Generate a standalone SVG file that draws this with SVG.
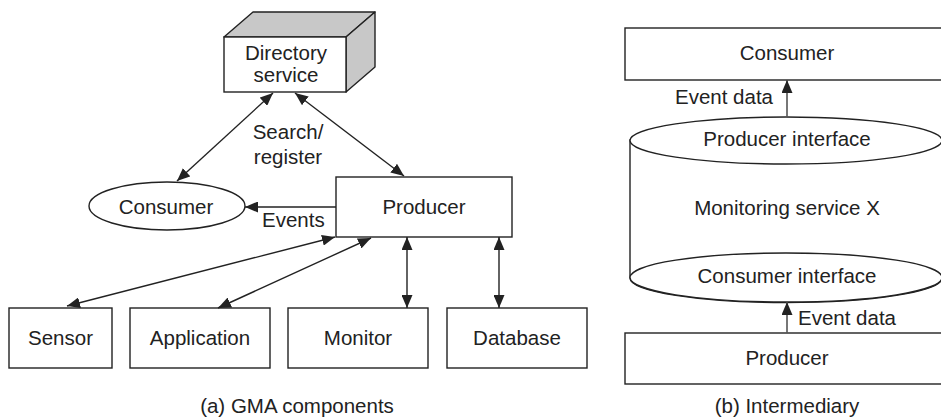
<svg xmlns="http://www.w3.org/2000/svg" width="941" height="420" viewBox="0 0 941 420">
<style>
.box{fill:#fff;stroke:#222;stroke-width:1.4}
.face{fill:#c8c8c8;stroke:#222;stroke-width:1.4;stroke-linejoin:round}
.t{font-family:"Liberation Sans",Arial,sans-serif;font-size:20.5px;fill:#222;text-anchor:middle}
.l{fill:none;stroke:#222;stroke-width:1.4}
.g{fill:none;stroke:#555;stroke-width:1.6}
</style>
<defs>
<marker id="ah" markerUnits="userSpaceOnUse" markerWidth="13" markerHeight="11" refX="13" refY="5.5" orient="auto-start-reverse" viewBox="0 0 13 11">
<path d="M0,0 L13,5.5 L0,11 z" fill="#222"/>
</marker>
</defs>
<rect width="941" height="420" fill="#fff"/>
<g id="directory">
<path class="face" d="M224,37 L253,12 L375,12 L346,37 z"/>
<path class="face" d="M346,37 L375,12 L375,67 L346,92 z"/>
<rect class="box" x="224" y="37" width="122" height="55"/>
<text class="t" x="286" y="60">Directory</text>
<text class="t" x="286" y="82">service</text>
</g>
<g id="consumer-a">
<ellipse class="box" cx="167" cy="206" rx="78" ry="24"/>
<text class="t" x="166" y="214">Consumer</text>
</g>
<g id="producer-a">
<rect class="box" x="336" y="177" width="176" height="60"/>
<text class="t" x="424" y="214">Producer</text>
</g>
<g id="sensor">
<rect class="box" x="9" y="308" width="103" height="60"/>
<text class="t" x="60.5" y="345">Sensor</text>
</g>
<g id="application">
<rect class="box" x="130" y="308" width="140" height="60"/>
<text class="t" x="200" y="345">Application</text>
</g>
<g id="monitor">
<rect class="box" x="288" y="308" width="140" height="60"/>
<text class="t" x="358" y="345">Monitor</text>
</g>
<g id="database">
<rect class="box" x="447" y="308" width="140" height="60"/>
<text class="t" x="517" y="345">Database</text>
</g>
<g id="consumer-b">
<rect class="box" x="625" y="28" width="320" height="52"/>
<text class="t" x="787" y="60">Consumer</text>
</g>
<g id="monitoring-service">
<path class="box" d="M630,140 L630,278 A156,24.5 0 0 0 942,278 L942,140 z"/>
<ellipse class="box" cx="786" cy="140.5" rx="156" ry="23.5"/>
<ellipse class="box" cx="786" cy="277.5" rx="156" ry="24.5"/>
<text class="t" x="787" y="146">Producer interface</text>
<text class="t" x="787" y="215">Monitoring service X</text>
<text class="t" x="787" y="283">Consumer interface</text>
</g>
<g id="producer-b">
<rect class="box" x="625" y="333" width="320" height="51"/>
<text class="t" x="787" y="365">Producer</text>
</g>
<g id="connectors">
<line class="l" x1="273" y1="93" x2="177" y2="181" marker-start="url(#ah)" marker-end="url(#ah)"/>
<line class="l" x1="295" y1="93" x2="404" y2="176" marker-start="url(#ah)" marker-end="url(#ah)"/>
<line class="l" x1="336" y1="207" x2="245" y2="207" marker-end="url(#ah)"/>
<line class="l" x1="335" y1="237" x2="67" y2="306" marker-start="url(#ah)" marker-end="url(#ah)"/>
<line class="l" x1="371" y1="238" x2="218" y2="308" marker-start="url(#ah)" marker-end="url(#ah)"/>
<line class="l" x1="407" y1="237" x2="407" y2="308" marker-start="url(#ah)" marker-end="url(#ah)"/>
<line class="l" x1="499" y1="237" x2="499" y2="308" marker-start="url(#ah)" marker-end="url(#ah)"/>
<line class="g" x1="787" y1="117" x2="787" y2="80" marker-end="url(#ah)"/>
<line class="g" x1="787" y1="333" x2="787" y2="302" marker-end="url(#ah)"/>
</g>
<g id="labels">
<text class="t" x="288" y="139">Search/</text>
<text class="t" x="288" y="164">register</text>
<text class="t" x="262" y="227" style="text-anchor:start">Events</text>
<text class="t" x="773" y="104" style="text-anchor:end">Event data</text>
<text class="t" x="798" y="325" style="text-anchor:start">Event data</text>
<text class="t" x="297" y="413">(a) GMA components</text>
<text class="t" x="787" y="413">(b) Intermediary</text>
</g>
</svg>
